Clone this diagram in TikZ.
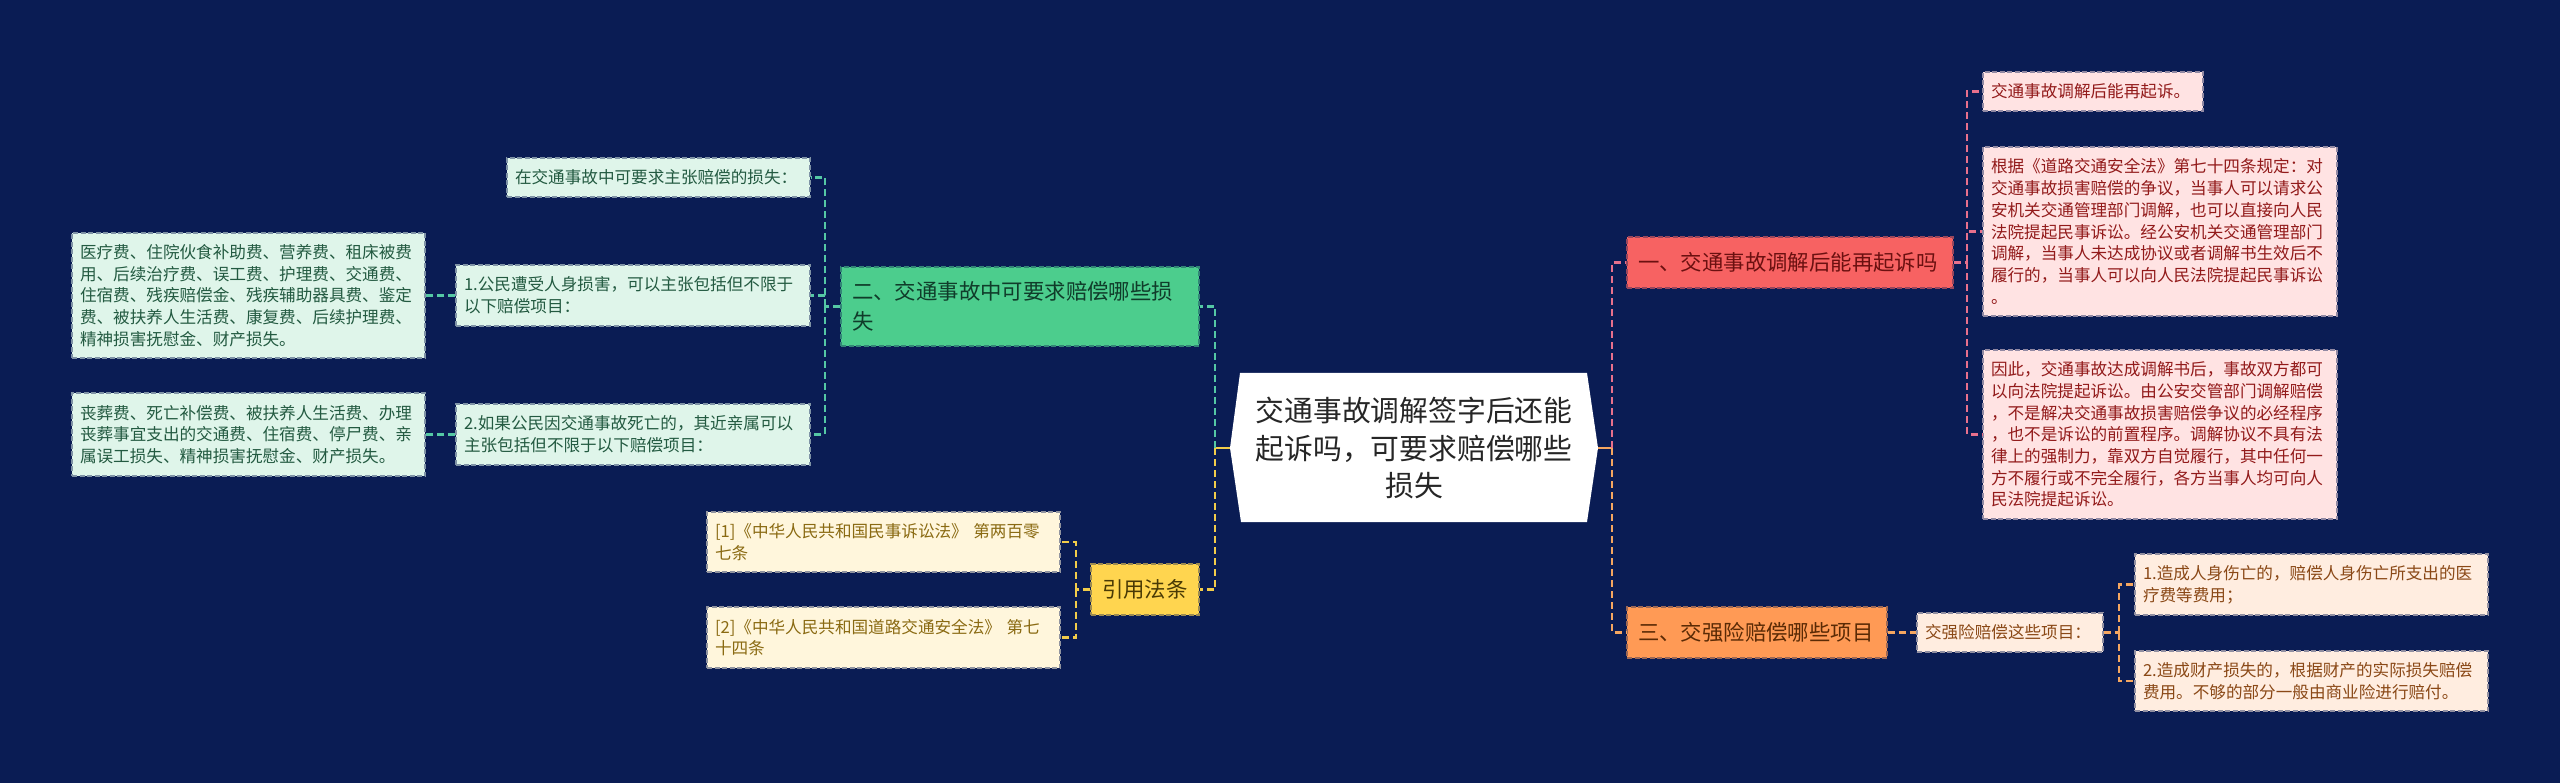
\documentclass[tikz,border=0pt]{standalone}
\usepackage{fontspec}
\setmainfont{Noto Sans CJK SC}
\definecolor{bg}{HTML}{0A1C54}
\definecolor{cRed}{HTML}{F76262}
\definecolor{cRedT}{HTML}{6B1010}
\definecolor{cRedL}{HTML}{FFE3E3}
\definecolor{cRedLT}{HTML}{921A1A}
\definecolor{cPink}{HTML}{E8708C}
\definecolor{cOr}{HTML}{FF9A55}
\definecolor{cOrT}{HTML}{5A2A05}
\definecolor{cOrL}{HTML}{FFEDE0}
\definecolor{cOrLT}{HTML}{8A4816}
\definecolor{cOrC}{HTML}{F5A660}
\definecolor{cGr}{HTML}{4CCD8D}
\definecolor{cGrT}{HTML}{103C2A}
\definecolor{cGrL}{HTML}{DFF5EA}
\definecolor{cGrLT}{HTML}{235A41}
\definecolor{cGrC}{HTML}{55C8A5}
\definecolor{cYe}{HTML}{FFD54F}
\definecolor{cYeT}{HTML}{4A3A05}
\definecolor{cYeL}{HTML}{FFF6DC}
\definecolor{cYeLT}{HTML}{8A6A12}
\definecolor{cYeC}{HTML}{F2CC4A}
\begin{document}
\begin{tikzpicture}[x=1pt,y=-1pt,
  conn/.style={line width=2.4pt, dash pattern=on 7pt off 4pt},
  lnPink/.style={conn, draw=cPink},
  lnOr/.style={conn, draw=cOrC},
  lnGr/.style={conn, draw=cGrC},
  lnYe/.style={conn, draw=cYeC},
  boxbase/.style={inner ysep=0pt, align=left, line width=1.4pt, dash pattern=on 5pt off 2.5pt},
  small/.style={boxbase, inner xsep=8pt, font=\fontsize{16.6}{21.7}\selectfont},
  mainb/.style={boxbase, inner xsep=11pt, font=\fontsize{21.4}{30}\selectfont},
  redleaf/.style={small, fill=cRedL, draw=cRedL!55!bg, text=cRedLT},
  orleaf/.style={small, fill=cOrL, draw=cOrL!55!bg, text=cOrLT},
  grleaf/.style={small, fill=cGrL, draw=cGrL!55!bg, text=cGrLT},
  yeleaf/.style={small, fill=cYeL, draw=cYeL!55!bg, text=cYeLT},
  redmain/.style={mainb, fill=cRed, draw=cRed!60!bg, text=cRedT},
  ormain/.style={mainb, fill=cOr, draw=cOr!60!bg, text=cOrT},
  grmain/.style={mainb, fill=cGr, draw=cGr!60!bg, text=cGrT},
  yemain/.style={mainb, fill=cYe, draw=cYe!60!bg, text=cYeT}
]
\fill[bg] (0,0) rectangle (2560,783);
\useasboundingbox (0,0) rectangle (2560,783);

% central node
\fill[white] (1240,373) -- (1587,373) -- (1598,448) -- (1587,522) -- (1241,522) -- (1230,448) -- cycle;
\node[minimum width=368pt, minimum height=149pt, inner sep=0pt, align=center,
  font=\fontsize{28.8}{37.5}\selectfont, text=black!85] (c) at (1414,448)
  {交通事故调解签字后还能\\起诉吗，可要求赔偿哪些\\损失};

% right branch main nodes
\node[redmain, minimum width=326pt, minimum height=51pt, text width=304pt] (R) at (1790,262.5) {一、交通事故调解后能再起诉吗};
\node[ormain, minimum width=260pt, minimum height=51pt, text width=238pt] (O) at (1757,632.5) {三、交强险赔偿哪些项目};

% red leaves
\node[redleaf, minimum width=220pt, minimum height=39pt, text width=204pt] (R1) at (2093,91.5) {交通事故调解后能再起诉。};
\node[redleaf, minimum width=354pt, minimum height=169pt, text width=338pt] (R2) at (2160,231.5)
 {根据《道路交通安全法》第七十四条规定：对\\交通事故损害赔偿的争议，当事人可以请求公\\安机关交通管理部门调解，也可以直接向人民\\法院提起民事诉讼。经公安机关交通管理部门\\调解，当事人未达成协议或者调解书生效后不\\履行的，当事人可以向人民法院提起民事诉讼\\。};
\node[redleaf, minimum width=354pt, minimum height=169pt, text width=338pt] (R3) at (2160,434.5)
 {因此，交通事故达成调解书后，事故双方都可\\以向法院提起诉讼。由公安交管部门调解赔偿\\，不是解决交通事故损害赔偿争议的必经程序\\，也不是诉讼的前置程序。调解协议不具有法\\律上的强制力，靠双方自觉履行，其中任何一\\方不履行或不完全履行，各方当事人均可向人\\民法院提起诉讼。};

% orange leaves
\node[orleaf, minimum width=186pt, minimum height=39pt, text width=170pt] (OC) at (2010,632.5) {交强险赔偿这些项目：};
\node[orleaf, minimum width=353pt, minimum height=61pt, text width=337pt] (O1) at (2311.5,584.5) {1.造成人身伤亡的，赔偿人身伤亡所支出的医\\疗费等费用；};
\node[orleaf, minimum width=353pt, minimum height=60pt, text width=337pt] (O2) at (2311.5,681) {2.造成财产损失的，根据财产的实际损失赔偿\\费用。不够的部分一般由商业险进行赔付。};

% left branch main nodes
\node[grmain, minimum width=358pt, minimum height=79pt, text width=336pt] (G) at (1020,306.5) {二、交通事故中可要求赔偿哪些损\\失};
\node[yemain, minimum width=108pt, minimum height=51pt, text width=86pt] (Y) at (1145,589.5) {引用法条};

% green leaves
\node[grleaf, minimum width=303pt, minimum height=39pt, text width=287pt] (G0) at (658.5,177.5) {在交通事故中可要求主张赔偿的损失：};
\node[grleaf, minimum width=354pt, minimum height=61pt, text width=338pt] (G1) at (633,295.5) {1.公民遭受人身损害，可以主张包括但不限于\\以下赔偿项目：};
\node[grleaf, minimum width=354pt, minimum height=61pt, text width=338pt] (G2) at (633,434.5) {2.如果公民因交通事故死亡的，其近亲属可以\\主张包括但不限于以下赔偿项目：};
\node[grleaf, minimum width=353pt, minimum height=125pt, text width=337pt] (G1a) at (248.5,295.5)
 {医疗费、住院伙食补助费、营养费、租床被费\\用、后续治疗费、误工费、护理费、交通费、\\住宿费、残疾赔偿金、残疾辅助器具费、鉴定\\费、被扶养人生活费、康复费、后续护理费、\\精神损害抚慰金、财产损失。};
\node[grleaf, minimum width=353pt, minimum height=83pt, text width=337pt] (G2a) at (248.5,434.5)
 {丧葬费、死亡补偿费、被扶养人生活费、办理\\丧葬事宜支出的交通费、住宿费、停尸费、亲\\属误工损失、精神损害抚慰金、财产损失。};

% yellow leaves
\node[yeleaf, minimum width=353pt, minimum height=60pt, text width=337pt] (Y1) at (883.5,542) {[1]《中华人民共和国民事诉讼法》 第两百零\\七条};
\node[yeleaf, minimum width=353pt, minimum height=61pt, text width=337pt] (Y2) at (883.5,637.5) {[2]《中华人民共和国道路交通安全法》 第七\\十四条};

% connectors: right of centre
\coordinate (rb) at (1612,448);
\draw[line width=2.4pt, cOrC] (c.east) -- (rb);
\draw[lnPink] (rb) |- (R.west);
\draw[lnOr] (rb) |- (O.west);
\coordinate (rb1) at (1967,262.5);
\draw[lnPink] (R.east) -- (rb1);
\draw[lnPink] (rb1) |- (R1.west);
\draw[lnPink] (rb1) |- (R2.west);
\draw[lnPink] (rb1) |- (R3.west);
\draw[lnOr] (O.east) -- (OC.west);
\coordinate (ob) at (2119,632.5);
\draw[lnOr] (OC.east) -- (ob);
\draw[lnOr] (ob) |- (O1.west);
\draw[lnOr] (ob) |- (O2.west);

% connectors: left of centre
\coordinate (lb) at (1215,448);
\draw[line width=2.4pt, cYeC] (c.west) -- (lb);
\draw[lnGr] (lb) |- (G.east);
\draw[lnYe] (lb) |- (Y.east);
\coordinate (gb) at (825,306.5);
\draw[lnGr] (G.west) -- (gb);
\draw[lnGr] (gb) |- (G0.east);
\draw[lnGr] (gb) |- (G1.east);
\draw[lnGr] (gb) |- (G2.east);
\draw[lnGr] (G1.west) -- (G1a.east);
\draw[lnGr] (G2.west) -- (G2a.east);
\coordinate (yb) at (1076,589.5);
\draw[lnYe] (Y.west) -- (yb);
\draw[lnYe] (yb) |- (Y1.east);
\draw[lnYe] (yb) |- (Y2.east);
\end{tikzpicture}
\end{document}
